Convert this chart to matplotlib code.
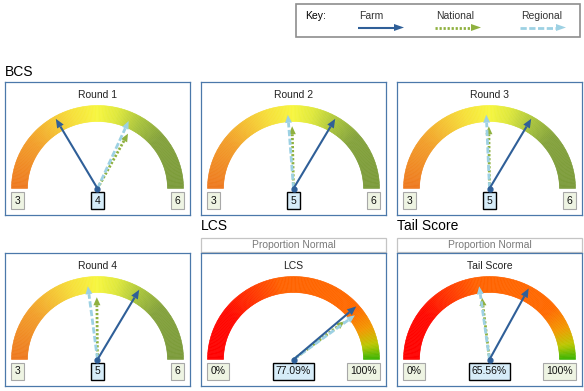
import numpy as np
import matplotlib
matplotlib.use("Agg")
import matplotlib.pyplot as plt
from matplotlib.collections import PolyCollection
from matplotlib.colors import LinearSegmentedColormap
from matplotlib.patches import Rectangle

plt.rcParams['font.family'] = ['Liberation Sans', 'DejaVu Sans']
plt.rcParams['lines.scale_dashes'] = False

W, H = 584, 391

# gauge data
titles = ["Round 1", "Round 2", "Round 3", "Round 4", "LCS", "Tail Score"]
farm = [4.0, 5.0, 5.0, 5.0, 77.09, 65.56]
national = [4.97, 4.48, 4.49, 4.49, 79.0, 46.3]
regional = [4.90, 4.43, 4.46, 4.38, 79.6, 45.7]
lo = [3, 3, 3, 3, 0, 0]
hi = [6, 6, 6, 6, 100, 100]
lo_labels = ["3", "3", "3", "3", "0%", "0%"]
hi_labels = ["6", "6", "6", "6", "100%", "100%"]
value_labels = ["4", "5", "5", "5", "77.09%", "65.56%"]

headings = ["BCS", "LCS", "Tail Score"]
legend_names = ["Farm", "National", "Regional"]

FARM = "#2f5f98"
NATIONAL = "#8fb13f"
REGIONAL = "#9dd1e3"
FRAME = "#4b78aa"

bcs_cmap = LinearSegmentedColormap.from_list("bcs", [
    (0, "#ee781e"), (0.2, "#f29e2a"), (0.4, "#f6e03a"), (0.5, "#f7f63e"),
    (0.58, "#dfe83c"), (0.68, "#a8c33c"), (0.78, "#84a23c"), (1, "#7b9b3a")])
pct_cmap = LinearSegmentedColormap.from_list("pct", [
    (0, "#ff0000"), (0.2, "#ff0800"), (0.45, "#ff6200"), (0.78, "#ff6a00"),
    (0.87, "#f39800"), (0.94, "#bcc800"), (1, "#3cb400")])

fig = plt.figure(figsize=(W / 100, H / 100), dpi=100)

# overlay in figure pixels
base = fig.add_axes([0, 0, 1, 1])
base.set_xlim(0, W)
base.set_ylim(H, 0)
base.axis("off")


def px_axes(x0, y0, x1, y1):
    ax = fig.add_axes([x0 / W, 1 - y1 / H, (x1 - x0) / W, (y1 - y0) / H])
    ax.set_xlim(0, x1 - x0)
    ax.set_ylim(y1 - y0, 0)
    ax.set_xticks([])
    ax.set_yticks([])
    for s in ax.spines.values():
        s.set_color(FRAME)
        s.set_linewidth(0.9)
    return ax


def arrow(ax, x0, y0, x1, y1, color, ls, lw=1.5, head=8, half=3.5):
    d = np.array([x1 - x0, y1 - y0])
    L = np.hypot(*d)
    u = d / L
    n = np.array([-u[1], u[0]])
    bx, by = np.array([x1, y1]) - u * head
    ax.plot([x0, bx], [y0, by], color=color, lw=lw, ls=ls,
            solid_capstyle="butt", dash_capstyle="butt")
    tri = np.array([[x1, y1], [bx + n[0] * half, by + n[1] * half],
                    [bx - n[0] * half, by - n[1] * half]])
    ax.fill(tri[:, 0], tri[:, 1], color=color, lw=0)


NAT_LS = (0, (1.6, 1.3))
REG_LS = (0, (4.5, 1.8))


def gauge(ax, i, w):
    cx, cy = w / 2, 106.5
    rx, ry, t = 86, 83, 16
    cmap = bcs_cmap if hi[i] == 6 else pct_cmap
    n = 180
    th = np.linspace(np.pi, 0, n + 1)
    polys, cols = [], []
    for k in range(n):
        a, b = th[k], th[k + 1]
        polys.append([(cx + rx * np.cos(a), cy - ry * np.sin(a)),
                      (cx + rx * np.cos(b), cy - ry * np.sin(b)),
                      (cx + (rx - t) * np.cos(b), cy - (ry - t) * np.sin(b)),
                      (cx + (rx - t) * np.cos(a), cy - (ry - t) * np.sin(a))])
        cols.append(cmap((k + 0.5) / n))
    ax.add_collection(PolyCollection(polys, facecolors=cols, edgecolors=cols, linewidths=0.4))

    def tip(v, f):
        a = np.pi * (1 - (v - lo[i]) / (hi[i] - lo[i]))
        return cx + f * rx * np.cos(a), cy - f * ry * np.sin(a)

    arrow(ax, cx, cy, *tip(national[i], 0.75), NATIONAL, NAT_LS, lw=2)
    arrow(ax, cx, cy, *tip(regional[i], 0.89), REGIONAL, REG_LS, lw=2)
    arrow(ax, cx, cy, *tip(farm[i], 0.97), FARM, "-", lw=1.5, head=9, half=3.8)
    ax.plot(cx, cy, "o", color=FARM, ms=3.5, zorder=5)

    ax.text(cx, 13, titles[i], ha="center", va="center", fontsize=7.5, color="#222222")
    small = dict(boxstyle="square,pad=0.32", fc="#eef4e3", ec="#a8a8a8", lw=0.8)
    ly = 118.5
    ax.text(9.5, ly, lo_labels[i], ha="left", va="center", fontsize=7.5, color="#111111", bbox=small)
    ax.text(w - 9.5, ly, hi_labels[i], ha="right", va="center", fontsize=7.5, color="#111111", bbox=small)
    ax.text(cx, ly, value_labels[i], ha="center", va="center", fontsize=7.5, color="#111111",
            bbox=dict(boxstyle="square,pad=0.32", fc="#d6ecf8", ec="black", lw=1))


cols_x = [(5, 190), (201, 386), (397, 582)]
boxes = [(cols_x[0], (82, 215)), (cols_x[1], (82, 215)), (cols_x[2], (82, 215)),
         (cols_x[0], (253, 386)), (cols_x[1], (253, 386)), (cols_x[2], (253, 386))]
for i, ((x0, x1), (y0, y1)) in enumerate(boxes):
    ax = px_axes(x0, y0, x1, y1)
    gauge(ax, i, x1 - x0)

# section headings
for txt, (x, y) in zip(headings, [(5, 76), (201, 230), (397, 230)]):
    base.text(x, y, txt, ha="left", va="baseline", fontsize=10, color="black")

# proportion normal strips
for x0, x1 in cols_x[1:]:
    base.add_patch(Rectangle((x0, 237.5), x1 - x0, 14, fc="white", ec="#c4c4c4", lw=0.9))
    base.text((x0 + x1) / 2, 244.5, "Proportion Normal", ha="center", va="center",
              fontsize=7.5, color="#7a7a7a")

# key
base.add_patch(Rectangle((295.5, 3.5), 284.5, 33.5, fc="white", ec="#8e8e8e", lw=1.2))
base.text(305, 19, "Key:", ha="left", va="baseline", fontsize=7.5, color="black")
styles = [(FARM, "-", 1.5), (NATIONAL, NAT_LS, 2), (REGIONAL, REG_LS, 2)]
for name, x, (c, ls, lw) in zip(legend_names, [359, 436, 521], styles):
    base.text(x, 19, name, ha="left", va="baseline", fontsize=7.5, color="#333333")
    arrow(base, x - 1, 27.5, x + 45, 27.5, c, ls, lw=lw, head=10, half=3.5)

fig.savefig("out.png", dpi=100)
